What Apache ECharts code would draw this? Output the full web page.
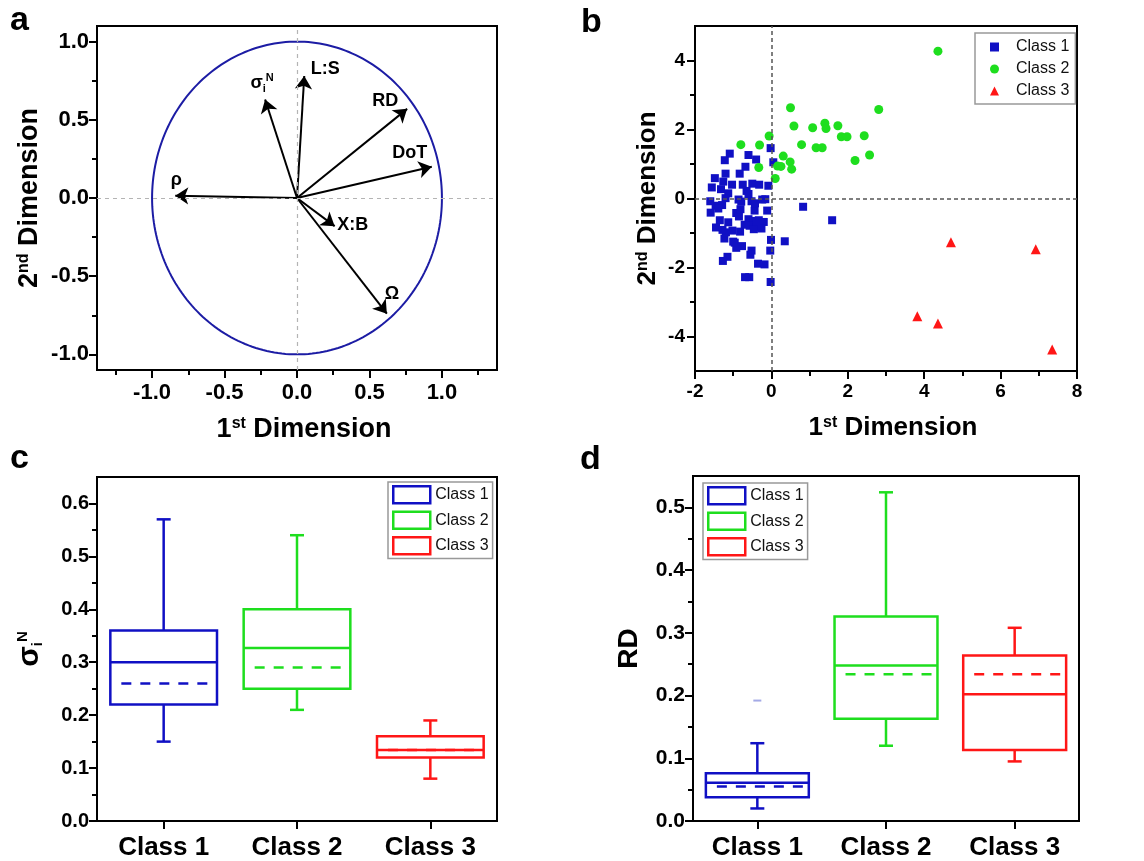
<!DOCTYPE html>
<html lang="en">
<head>
<meta charset="UTF-8">
<title>PCA loadings, scores and class box plots</title>
<script src="https://cdn.jsdelivr.net/npm/echarts@6/dist/echarts.min.js"></script>
<style>html,body{margin:0;padding:0;background:#fff}</style>
</head>
<body>
<div id="main" style="width:1144px;height:861px"></div>
<script>
// ---- panel a: loading vectors ----
var vectorNames = ['rho', 'sigma', 'L:S', 'RD', 'DoT', 'X:B', 'Omega'];
var vectorX = [-0.84, -0.22, 0.05, 0.76, 0.93, 0.26, 0.62];
var vectorY = [0.015, 0.63, 0.78, 0.57, 0.20, -0.18, -0.74];

// ---- panel b: scores ----
var class1X = [-0.02, 0.05, -1.09, -1.22, -0.60, -0.40, -0.68, -1.20, -0.83, -1.48, -1.26, -1.56, -1.03, -1.32,
  -0.75, -0.50, -0.32, -0.08, -1.13, -0.65, -0.60, -1.60, -1.20, -0.86, -0.79, -0.52, -0.24, -0.16, -1.59, -1.46,
  -1.29, -1.39, -0.44, -0.11, -0.92, -0.85, -1.35, -1.13, -0.60, -0.48, -0.33, -0.20, -0.70, -0.57, -0.39, -1.45,
  -1.28, -1.02, -0.82, -1.23, -0.96, -0.92, -0.77, -0.52, -0.55, -1.15, -1.27, -0.35, -0.18, -0.69, -0.58, -0.02,
  -0.01, 0.35, -0.03, 0.83, 1.59, -1.19, -1.00, -0.43, -0.26, -0.39, -0.81, -0.46];
var class1Y = [1.46, 1.05, 1.30, 1.11, 1.26, 1.13, 0.92, 0.72, 0.72, 0.59, 0.49, 0.32, 0.40, 0.27,
  0.40, 0.43, 0.40, 0.37, 0.15, 0.22, 0.13, -0.08, 0.01, -0.03, -0.09, -0.08, -0.03, -0.02, -0.41, -0.21,
  -0.19, -0.29, -0.35, -0.35, -0.42, -0.52, -0.63, -0.69, -0.60, -0.65, -0.63, -0.68, -0.76, -0.79, -0.84, -0.84,
  -0.91, -0.93, -0.96, -1.16, -1.28, -1.43, -1.38, -1.51, -1.63, -1.69, -1.81, -1.89, -1.91, -2.28, -2.28, -2.42,
  -1.20, -1.24, -1.51, -0.24, -0.63, -0.98, -1.25, -0.14, -0.87, -0.71, -0.31, -0.89];
var class2X = [4.36, 0.50, 2.81, 0.59, 1.08, 1.40, 1.43, 1.74, 1.83, 1.98, 2.43, -0.06, -0.80, -0.31, 0.79,
  1.17, 1.33, 2.57, 0.31, 2.19, 0.49, -0.33, 0.16, 0.25, 0.53, 0.10];
var class2Y = [4.27, 2.63, 2.58, 2.10, 2.05, 2.18, 2.03, 2.11, 1.79, 1.79, 1.82, 1.81, 1.56, 1.55, 1.56,
  1.47, 1.47, 1.26, 1.23, 1.10, 1.06, 0.90, 0.94, 0.93, 0.85, 0.58];
var class3X = [4.70, 6.92, 3.82, 4.36, 7.35];
var class3Y = [-1.27, -1.47, -3.41, -3.62, -4.38];

// ---- panels c and d: box statistics per class ----
var classNames = ['Class 1', 'Class 2', 'Class 3'];
var sigmaLow = [0.15, 0.21, 0.08];
var sigmaQ1 = [0.22, 0.25, 0.12];
var sigmaMedian = [0.30, 0.327, 0.134];
var sigmaQ3 = [0.36, 0.40, 0.16];
var sigmaHigh = [0.57, 0.54, 0.19];
var sigmaMean = [0.26, 0.29, 0.134];

var rdLow = [0.02, 0.12, 0.095];
var rdQ1 = [0.038, 0.163, 0.113];
var rdMedian = [0.061, 0.248, 0.202];
var rdQ3 = [0.076, 0.326, 0.264];
var rdHigh = [0.124, 0.524, 0.308];
var rdMean = [0.055, 0.234, 0.234];
var rdOutlierClass = ['Class 1'];
var rdOutlierValue = [0.192];

// ---- tick values ----
var aTicks = [-1, -0.5, 0, 0.5, 1];
var aXMinor = [-1.25, -0.75, -0.25, 0.25, 0.75, 1.25];
var aYMinor = [-0.75, -0.25, 0.25, 0.75];
var bXTicks = [-2, 0, 2, 4, 6, 8];
var bXMinor = [-1, 1, 3, 5, 7];
var bYTicks = [-4, -2, 0, 2, 4];
var bYMinor = [-3, -1, 1, 3];
var cTicks = [0, 0.1, 0.2, 0.3, 0.4, 0.5, 0.6];
var cMinor = [0.05, 0.15, 0.25, 0.35, 0.45, 0.55];
var dTicks = [0, 0.1, 0.2, 0.3, 0.4, 0.5];
var dMinor = [0.05, 0.15, 0.25, 0.35, 0.45];

var FONT = 'Liberation Sans, Arial, Helvetica, sans-serif';
var BLUE = '#1010c4', GREEN = '#1ede1e', RED = '#ff1616', NAVY = '#1c1ca4';
var classColors = [BLUE, GREEN, RED];

var myChart = echarts.init(document.getElementById('main'));

function grid(l, t, w, h) {
    return { left: l, top: t, width: w, height: h, show: true, borderColor: '#000', borderWidth: 2 };
}

function supRich(size) {
    return {
        sup: { fontSize: size, fontWeight: 'bold', fontFamily: FONT, color: '#000', verticalAlign: 'top', lineHeight: size },
        sub: { fontSize: size, fontWeight: 'bold', fontFamily: FONT, color: '#000', verticalAlign: 'bottom', lineHeight: size }
    };
}

function nameStyle(size, rich) {
    return { fontFamily: FONT, fontWeight: 'bold', fontSize: size, color: '#000', rich: rich || {} };
}

// main axis: line, labelled major ticks
function majorAxis(gi, pos, min, max, ticks, digits, fontSize, margin) {
    return {
        type: 'value', gridIndex: gi, position: pos, min: min, max: max,
        axisLine: { show: true, onZero: false, lineStyle: { color: '#000', width: 2 } },
        axisTick: { show: true, length: 8, customValues: ticks, lineStyle: { color: '#000', width: 2 } },
        axisLabel: {
            show: true, customValues: ticks, margin: margin,
            formatter: function (v) { return v.toFixed(digits); },
            fontFamily: FONT, fontWeight: 'bold', fontSize: fontSize, color: '#000'
        },
        splitLine: { show: false }
    };
}

// twin axis used only for the short minor ticks
function minorAxis(gi, pos, min, max, ticks) {
    return {
        type: 'value', gridIndex: gi, position: pos, min: min, max: max,
        axisLine: { show: false, onZero: false },
        axisTick: { show: true, length: 5, customValues: ticks, lineStyle: { color: '#000', width: 2 } },
        axisLabel: { show: false },
        splitLine: { show: false }
    };
}

function categoryAxis(gi, fontSize, margin) {
    return {
        type: 'category', gridIndex: gi, position: 'bottom', data: classNames,
        axisLine: { show: true, onZero: false, lineStyle: { color: '#000', width: 2 } },
        axisTick: { show: true, alignWithLabel: true, length: 8, lineStyle: { color: '#000', width: 2 } },
        axisLabel: { margin: margin, fontFamily: FONT, fontWeight: 'bold', fontSize: fontSize, color: '#000' },
        splitLine: { show: false }
    };
}

var xAxes = [
    majorAxis(0, 'bottom', -1.38, 1.38, aTicks, 1, 22, 12),
    minorAxis(0, 'bottom', -1.38, 1.38, aXMinor),
    majorAxis(1, 'bottom', -2, 8, bXTicks, 0, 19, 11),
    minorAxis(1, 'bottom', -2, 8, bXMinor),
    categoryAxis(2, 26, 14),
    categoryAxis(3, 26, 14)
];
xAxes[0].name = '1{sup|st} Dimension';
xAxes[0].nameLocation = 'middle';
xAxes[0].nameGap = 46;
xAxes[0].nameTextStyle = nameStyle(27, supRich(16));
xAxes[0].nameTextStyle.padding = [0, 0, 0, 14];
xAxes[2].name = '1{sup|st} Dimension';
xAxes[2].nameLocation = 'middle';
xAxes[2].nameGap = 44;
xAxes[2].nameTextStyle = nameStyle(26, supRich(16));
xAxes[2].nameTextStyle.padding = [0, 0, 0, 14];

var yAxes = [
    majorAxis(0, 'left', -1.1, 1.1, aTicks, 1, 22, 8),
    minorAxis(0, 'left', -1.1, 1.1, aYMinor),
    majorAxis(1, 'left', -5, 5, bYTicks, 0, 19, 10),
    minorAxis(1, 'left', -5, 5, bYMinor),
    majorAxis(2, 'left', 0, 0.65, cTicks, 1, 20, 8),
    minorAxis(2, 'left', 0, 0.65, cMinor),
    majorAxis(3, 'left', 0, 0.55, dTicks, 1, 21, 8),
    minorAxis(3, 'left', 0, 0.55, dMinor)
];
yAxes[0].name = '2{sup|nd} Dimension';
yAxes[0].nameLocation = 'middle';
yAxes[0].nameGap = 54;
yAxes[0].nameTextStyle = nameStyle(27, supRich(16));
yAxes[2].name = '2{sup|nd} Dimension';
yAxes[2].nameLocation = 'middle';
yAxes[2].nameGap = 34;
yAxes[2].nameTextStyle = nameStyle(26, supRich(16));
yAxes[4].name = 'σ{sub|i}{sup|N}';
yAxes[4].nameLocation = 'middle';
yAxes[4].nameGap = 52;
yAxes[4].nameTextStyle = nameStyle(30, supRich(15));
yAxes[6].name = 'RD';
yAxes[6].nameLocation = 'middle';
yAxes[6].nameGap = 50;
yAxes[6].nameTextStyle = nameStyle(28);

// ---- series builders ----
var vectorLabelText = {
    rho: 'ρ', sigma: 'σ{sub|i}{sup|N}', 'L:S': 'L:S', RD: 'RD', DoT: 'DoT', 'X:B': 'X:B', Omega: 'Ω'
};
var vectorLabelOffset = {
    rho: [1, -16], sigma: [-3, -16], 'L:S': [21, -7], RD: [-22, -8], DoT: [-22, -14], 'X:B': [18, -1], Omega: [5, -20]
};

function zip(xs, ys) {
    return xs.map(function (x, i) { return [x, ys[i]]; });
}

function boxData(lo, q1, md, q3, hi, mean) {
    return classNames.map(function (c, i) {
        return [i, lo[i], q1[i], md[i], q3[i], hi[i], mean[i]];
    });
}

function renderBox(params, api) {
    var i = api.value(0);
    var lo = api.coord([i, api.value(1)]);
    var q1 = api.coord([i, api.value(2)]);
    var md = api.coord([i, api.value(3)]);
    var q3 = api.coord([i, api.value(4)]);
    var hi = api.coord([i, api.value(5)]);
    var mn = api.coord([i, api.value(6)]);
    var w = api.size([1, 0])[0] * 0.8;
    var cx = lo[0], l = cx - w / 2, r = cx + w / 2;
    var color = api.visual('color');
    function st() { return { stroke: color, lineWidth: 2.5, fill: null }; }
    function seg(x1, y1, x2, y2) { return { type: 'line', shape: { x1: x1, y1: y1, x2: x2, y2: y2 }, style: st() }; }
    return {
        type: 'group',
        children: [
            seg(cx, q3[1], cx, hi[1]),
            seg(cx - 7, hi[1], cx + 7, hi[1]),
            seg(cx, q1[1], cx, lo[1]),
            seg(cx - 7, lo[1], cx + 7, lo[1]),
            { type: 'rect', shape: { x: l, y: q3[1], width: w, height: q1[1] - q3[1] }, style: { stroke: color, lineWidth: 2.5, fill: 'rgba(255,255,255,0)' } },
            { type: 'line', shape: { x1: l + 11, y1: mn[1], x2: r, y2: mn[1] }, style: { stroke: color, lineWidth: 2.5, lineDash: [10, 9] } },
            seg(l, md[1], r, md[1])
        ]
    };
}

var series = [];

// panel a: unit circle
series.push({
    type: 'custom', xAxisIndex: 0, yAxisIndex: 0, silent: true, data: [[0, 0]],
    renderItem: function (params, api) {
        var pts = [];
        for (var k = 0; k <= 240; k++) {
            var t = k / 240 * 2 * Math.PI;
            pts.push(api.coord([Math.cos(t), Math.sin(t)]));
        }
        return { type: 'polyline', shape: { points: pts }, style: { stroke: NAVY, lineWidth: 2, fill: null } };
    }
});
// panel a: loading arrows
series.push({
    type: 'lines', coordinateSystem: 'cartesian2d', xAxisIndex: 0, yAxisIndex: 0, silent: true,
    symbol: ['none', 'arrow'], symbolSize: 13,
    lineStyle: { color: '#000', width: 2, opacity: 1 },
    data: vectorX.map(function (x, i) { return { coords: [[0, 0], [x, vectorY[i]]] }; })
});
// panel a: arrow labels + dashed zero lines
series.push({
    type: 'scatter', xAxisIndex: 0, yAxisIndex: 0, silent: true, symbolSize: 0.1,
    itemStyle: { color: 'rgba(0,0,0,0)', opacity: 1 },
    data: vectorNames.map(function (n, i) {
        return {
            value: [vectorX[i], vectorY[i]],
            label: {
                show: true, position: 'inside', offset: vectorLabelOffset[n],
                formatter: vectorLabelText[n],
                fontFamily: FONT, fontWeight: 'bold', fontSize: 18, color: '#000', lineHeight: 22,
                rich: supRich(11)
            }
        };
    }),
    markLine: {
        silent: true, symbol: 'none', animation: false, label: { show: false },
        lineStyle: { color: '#b4b4b4', width: 1.2, type: [4, 4] },
        data: [{ xAxis: 0 }, { yAxis: 0 }]
    }
});

// panel b: score scatter
series.push({
    name: 'Class 1', type: 'scatter', xAxisIndex: 2, yAxisIndex: 2, symbol: 'rect', symbolSize: 8,
    itemStyle: { color: BLUE, opacity: 1 }, data: zip(class1X, class1Y),
    markLine: {
        silent: true, symbol: 'none', animation: false, label: { show: false },
        lineStyle: { color: '#555', width: 1.5, type: [4, 3] },
        data: [{ xAxis: 0 }, { yAxis: 0 }]
    }
});
series.push({
    name: 'Class 2', type: 'scatter', xAxisIndex: 2, yAxisIndex: 2, symbol: 'circle', symbolSize: 9,
    itemStyle: { color: GREEN, opacity: 1 }, data: zip(class2X, class2Y)
});
series.push({
    name: 'Class 3', type: 'scatter', xAxisIndex: 2, yAxisIndex: 2, symbol: 'triangle', symbolSize: 10,
    itemStyle: { color: RED, opacity: 1 }, data: zip(class3X, class3Y)
});

// panels c and d: box plots, one series per class
var sigmaRows = boxData(sigmaLow, sigmaQ1, sigmaMedian, sigmaQ3, sigmaHigh, sigmaMean);
var rdRows = boxData(rdLow, rdQ1, rdMedian, rdQ3, rdHigh, rdMean);
classNames.forEach(function (c, i) {
    series.push({
        name: c, type: 'custom', xAxisIndex: 4, yAxisIndex: 4, silent: true,
        itemStyle: { color: classColors[i] }, renderItem: renderBox, data: [sigmaRows[i]]
    });
    series.push({
        name: c, type: 'custom', xAxisIndex: 5, yAxisIndex: 6, silent: true,
        itemStyle: { color: classColors[i] }, renderItem: renderBox, data: [rdRows[i]]
    });
});
series.push({
    type: 'scatter', xAxisIndex: 5, yAxisIndex: 6, silent: true, symbol: 'rect', symbolSize: [8, 2],
    itemStyle: { color: '#a4aae6', opacity: 1 }, data: zip(rdOutlierClass, rdOutlierValue)
});

function boxLegend(left, top) {
    return {
        orient: 'vertical', left: left, top: top, selectedMode: false,
        padding: [3, 4, 3, 4], itemWidth: 37, itemHeight: 17, itemGap: 6,
        borderColor: '#999', borderWidth: 1.5, backgroundColor: '#fff',
        textStyle: { fontFamily: FONT, fontSize: 16, color: '#111' },
        data: classNames.map(function (c, i) {
            return { name: c, icon: 'rect', itemStyle: { color: '#fff', borderColor: classColors[i], borderWidth: 2.5 } };
        })
    };
}

var option = {
    animation: false,
    backgroundColor: '#fff',
    title: [
        { text: 'a', left: 10, top: 4 },
        { text: 'b', left: 581, top: 6 },
        { text: 'c', left: 10, top: 442 },
        { text: 'd', left: 580, top: 443 }
    ].map(function (t) {
        t.padding = 0;
        t.textStyle = { fontFamily: FONT, fontWeight: 'bold', fontSize: 34, color: '#000' };
        return t;
    }),
    grid: [grid(97, 26, 400, 344), grid(695, 26, 382, 345), grid(97, 477, 400, 345), grid(693, 476, 386, 346)],
    xAxis: xAxes,
    yAxis: yAxes,
    legend: [
        {
            orient: 'vertical', left: 975, top: 33, selectedMode: false,
            padding: [6, 6, 5, 15], itemWidth: 9, itemHeight: 9, itemGap: 6,
            borderColor: '#999', borderWidth: 1.5, backgroundColor: '#fff',
            textStyle: { fontFamily: FONT, fontSize: 16, color: '#111', lineHeight: 16, padding: [0, 0, 0, 12] },
            data: [
                { name: 'Class 1', icon: 'rect', itemStyle: { color: BLUE, opacity: 1 } },
                { name: 'Class 2', icon: 'circle', itemStyle: { color: GREEN, opacity: 1 } },
                { name: 'Class 3', icon: 'triangle', itemStyle: { color: RED, opacity: 1 } }
            ]
        },
        boxLegend(388, 482),
        boxLegend(703, 483)
    ],
    series: series
};

myChart.setOption(option);
</script>
</body>
</html>
